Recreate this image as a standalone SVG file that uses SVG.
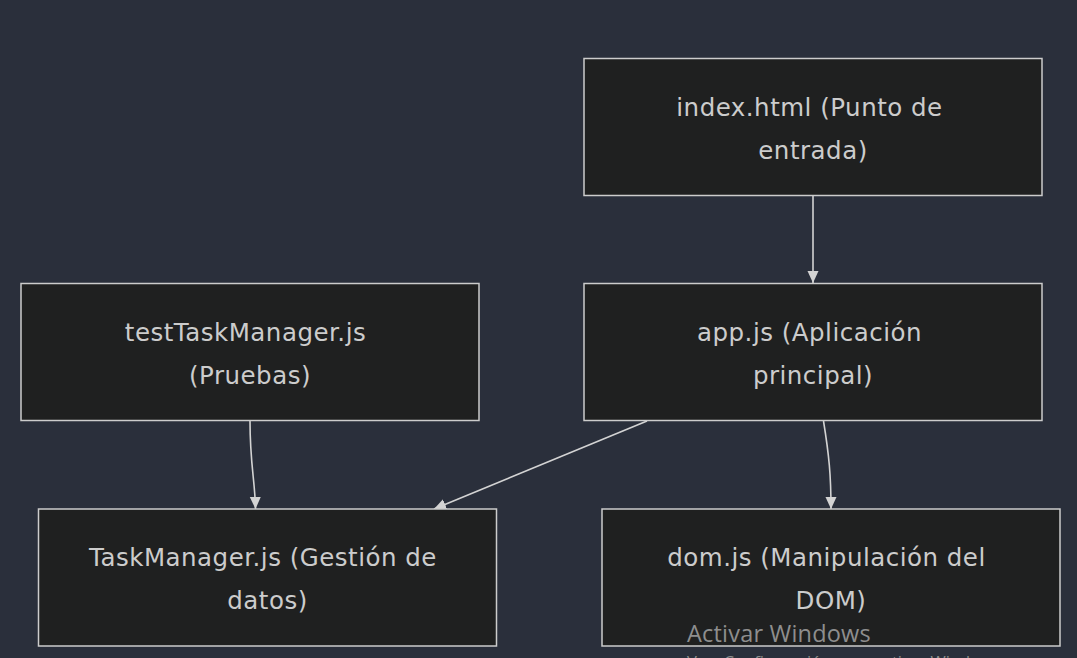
<svg xmlns="http://www.w3.org/2000/svg" width="1077" height="658" viewBox="0 0 1077 658">
<defs>
<style>
.node rect{fill:#1f2020;stroke:#cccccc;stroke-width:1.5}
.node text{fill:#cccccc;font-family:"DejaVu Sans","Open Sans",sans-serif;font-size:24.5px;letter-spacing:0.5px;text-anchor:middle}
.edge{fill:none;stroke:#d3d3d3;stroke-width:1.6}
.wm{fill:#8e8e8e;font-family:"Open Sans","Noto Sans",sans-serif}
</style>
<marker id="arrow" viewBox="0 0 12 12" refX="12" refY="6" markerWidth="12" markerHeight="12" markerUnits="userSpaceOnUse" orient="auto">
<path d="M0,0.5 L12,6 L0,11.5 Z" fill="#d3d3d3"/>
</marker>
</defs>
<rect width="1077" height="658" fill="#2a2f3b"/>
<g id="connectors">
<path class="edge" d="M813,196 L813,283" marker-end="url(#arrow)"/>
<path class="edge" d="M250,421 C250,465 255,480 255.5,509" marker-end="url(#arrow)"/>
<path class="edge" d="M647,421 L434,509" marker-end="url(#arrow)"/>
<path class="edge" d="M823.5,421 C829,455 831,475 831,509" marker-end="url(#arrow)"/>
</g>
<g id="index" class="node">
<rect x="584" y="58.5" width="458" height="137"/>
<text x="809.5" y="115.5">index.html (Punto de</text>
<text x="813" y="158.5">entrada)</text>
</g>
<g id="app" class="node">
<rect x="584" y="283.5" width="458" height="137"/>
<text x="809.5" y="340.5">app.js (Aplicación</text>
<text x="813" y="383.5">principal)</text>
</g>
<g id="test" class="node">
<rect x="21" y="283.5" width="458" height="137"/>
<text x="245.5" y="340.5">testTaskManager.js</text>
<text x="250" y="383.5">(Pruebas)</text>
</g>
<g id="taskmanager" class="node">
<rect x="38.5" y="509" width="458" height="137"/>
<text x="263" y="566">TaskManager.js (Gestión de</text>
<text x="267.5" y="609">datos)</text>
</g>
<g id="dom" class="node">
<rect x="602" y="509" width="458" height="137"/>
<text x="826.5" y="566">dom.js (Manipulación del</text>
<text x="831" y="609">DOM)</text>
</g>
<g id="watermark">
<text class="wm" x="687" y="641.5" font-size="23.5" letter-spacing="0.2">Activar Windows</text>
<text class="wm" x="687" y="668" font-size="16.5">Ve a Configuración para activar Windows.</text>
</g>
</svg>
